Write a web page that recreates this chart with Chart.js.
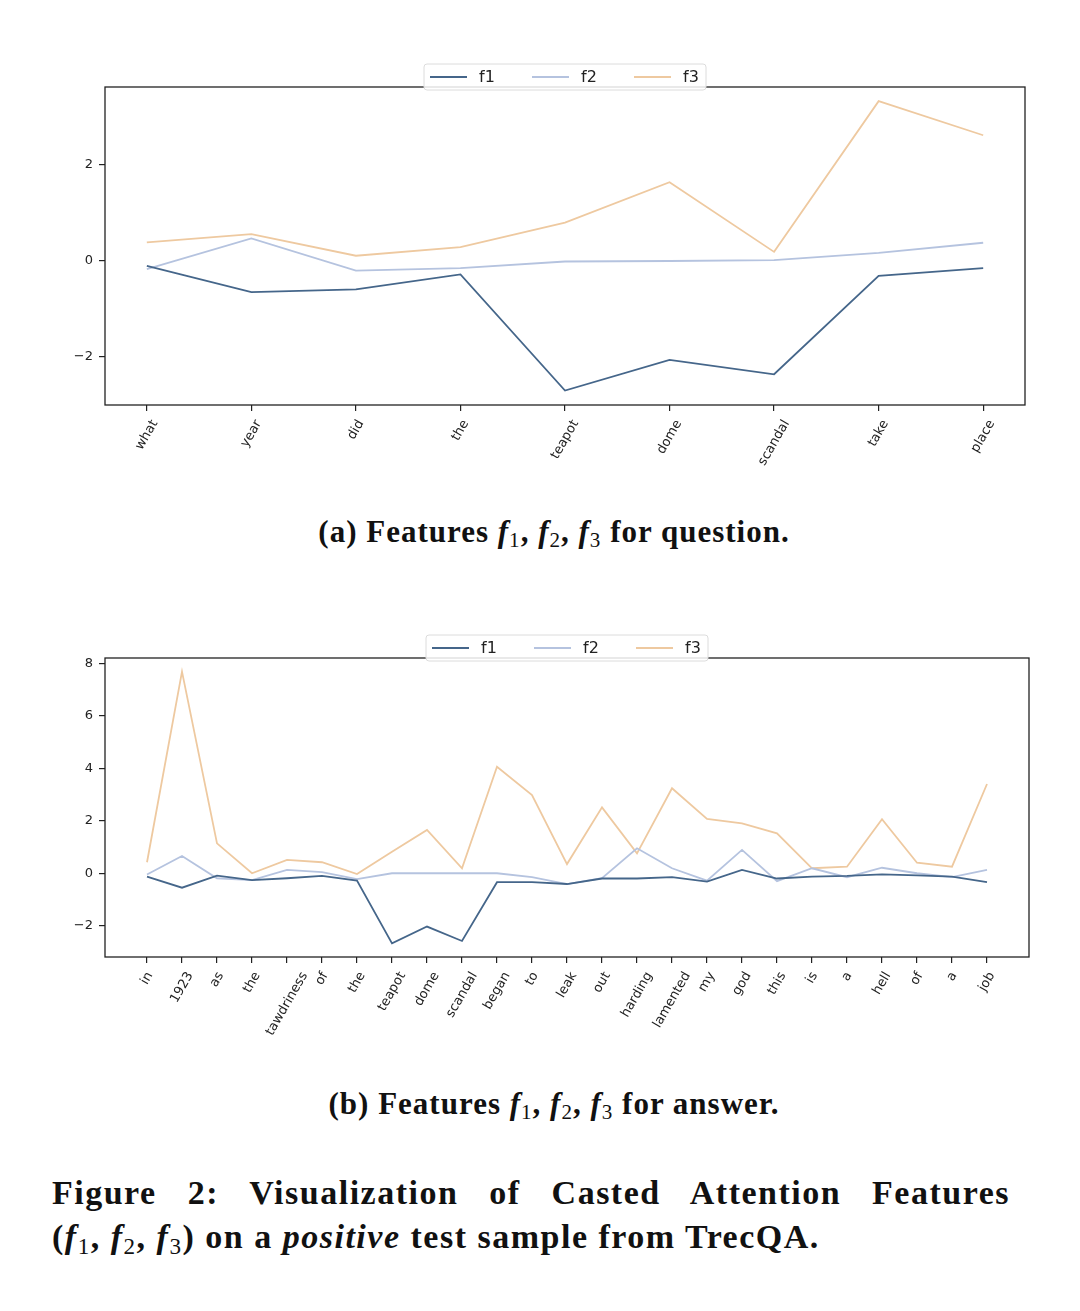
<!DOCTYPE html>
<html><head><meta charset="utf-8">
<script src="https://cdn.jsdelivr.net/npm/chart.js@4.4.1/dist/chart.umd.min.js"></script>
<style>
html,body{margin:0;padding:0;background:#fff;}
body{width:1080px;height:1311px;position:relative;overflow:hidden;font-family:"Liberation Serif",serif;color:#111;}
canvas{position:absolute;left:0;}
#c1{top:0;}
#c2{top:560px;}
.cap{position:absolute;left:0;width:1108px;text-align:center;font-weight:bold;font-size:31px;letter-spacing:1px;line-height:36px;white-space:nowrap;}
.cap sub,.fig sub{font-size:0.68em;font-weight:normal;vertical-align:-0.25em;line-height:0;}
.fig{position:absolute;left:52px;width:958px;font-weight:bold;font-size:34px;letter-spacing:1.5px;line-height:44px;}
.l1{text-align:justify;text-align-last:justify;white-space:nowrap;}
</style>
</head><body>
<canvas id="c1" width="1080" height="500"></canvas>
<canvas id="c2" width="1080" height="500"></canvas>
<div class="cap" style="top:514px">(a) Features <i>f</i><sub>1</sub>, <i>f</i><sub>2</sub>, <i>f</i><sub>3</sub> for question.</div>
<div class="cap" style="top:1086px">(b) Features <i>f</i><sub>1</sub>, <i>f</i><sub>2</sub>, <i>f</i><sub>3</sub> for answer.</div>
<div class="fig" style="top:1171px">
<div class="l1">Figure 2: Visualization of Casted Attention Features</div>
<div>(<i>f</i><sub>1</sub>, <i>f</i><sub>2</sub>, <i>f</i><sub>3</sub>) on a <i>positive</i> test sample from TrecQA.</div>
</div>
<script>
// ---- Data: question (a) ----
const qLabels = ['what','year','did','the','teapot','dome','scandal','take','place'];
const qF1 = [-0.10,-0.65,-0.59,-0.28,-2.70,-2.06,-2.36,-0.31,-0.15];
const qF2 = [-0.17,0.47,-0.20,-0.15,-0.01,0.00,0.02,0.17,0.38];
const qF3 = [0.39,0.56,0.11,0.29,0.80,1.64,0.19,3.33,2.62];
const qYTicks = [-2,0,2];

// ---- Data: answer (b) ----
const aLabels = ['in','1923','as','the','tawdriness','of','the','teapot','dome','scandal','began','to','leak','out','harding','lamented','my','god','this','is','a','hell','of','a','job'];
const aF1 = [-0.13,-0.55,-0.09,-0.26,-0.19,-0.10,-0.28,-2.67,-2.03,-2.58,-0.34,-0.34,-0.41,-0.20,-0.20,-0.15,-0.32,0.13,-0.20,-0.13,-0.10,-0.04,-0.08,-0.13,-0.34];
const aF2 = [-0.05,0.66,-0.19,-0.26,0.13,0.04,-0.22,0.00,0.00,0.00,0.00,-0.15,-0.41,-0.19,0.95,0.19,-0.28,0.89,-0.30,0.19,-0.15,0.21,0.00,-0.15,0.13];
const aF3 = [0.42,7.68,1.14,0.00,0.51,0.42,-0.03,0.82,1.65,0.19,4.06,2.98,0.35,2.51,0.76,3.24,2.07,1.90,1.52,0.19,0.25,2.06,0.40,0.25,3.40];
const aYTicks = [-2,0,2,4,6,8];

const seriesNames = ['f1','f2','f3'];
const seriesColors = ['#45668a','#b5c3df','#eec9a0'];

function makeChart(id, labels, f1, f2, f3, yMin, yMax, yTicks, area) {
  const H = 500, W = 1080;
  const series = [f1, f2, f3];
  const n = labels.length;
  const marg = (n - 1) * 0.05;
  const frame = {
    id: 'frame',
    afterDatasetsDraw(chart) {
      const a = chart.chartArea, ctx = chart.ctx;
      ctx.save();
      ctx.strokeStyle = '#222'; ctx.lineWidth = 1.3;
      ctx.strokeRect(a.left, a.top, a.right - a.left, a.bottom - a.top);
      ctx.restore();
    }
  };
  const xlab = {
    id: 'xlab',
    afterDraw(chart) {
      const ctx = chart.ctx, xs = chart.scales.x, a = chart.chartArea;
      ctx.save();
      ctx.font = '13px "DejaVu Sans"';
      ctx.fillStyle = '#222';
      const th = 13, ang = 60 * Math.PI / 180, y0 = a.bottom + 13;
      labels.forEach((t, i) => {
        const L = ctx.measureText(t).width;
        const x = xs.getPixelForValue(i);
        const bh = L * Math.sin(ang) + th * Math.cos(ang);
        ctx.save();
        ctx.translate(x, y0 + bh / 2);
        ctx.rotate(-ang);
        ctx.textAlign = 'center'; ctx.textBaseline = 'middle';
        ctx.fillText(t, 0, 0);
        ctx.restore();
      });
      ctx.restore();
    }
  };
  const legend = {
    id: 'mlegend',
    afterDraw(chart) {
      const ctx = chart.ctx, a = chart.chartArea;
      const bw = 282, bh = 26;
      const cx = (a.left + a.right) / 2;
      const bx = cx - bw / 2, by = a.top - 23;
      ctx.save();
      ctx.fillStyle = 'rgba(255,255,255,0.85)';
      ctx.strokeStyle = '#dcdcdc'; ctx.lineWidth = 1;
      ctx.beginPath();
      if (ctx.roundRect) ctx.roundRect(bx, by, bw, bh, 3); else ctx.rect(bx, by, bw, bh);
      ctx.fill(); ctx.stroke();
      ctx.font = '16px "DejaVu Sans"';
      ctx.textBaseline = 'middle';
      ctx.fillStyle = '#222';
      seriesNames.forEach((s, k) => {
        const ox = bx + 6 + k * 102;
        ctx.strokeStyle = seriesColors[k]; ctx.lineWidth = 2;
        ctx.beginPath(); ctx.moveTo(ox, by + bh / 2); ctx.lineTo(ox + 37, by + bh / 2); ctx.stroke();
        ctx.fillText(s, ox + 49, by + bh / 2 + 1);
      });
      ctx.restore();
    }
  };
  return new Chart(document.getElementById(id), {
    type: 'line',
    data: {
      datasets: series.map((arr, k) => ({
        label: seriesNames[k],
        data: arr.map((v, i) => ({x: i, y: v})),
        borderColor: seriesColors[k],
        backgroundColor: seriesColors[k],
        borderWidth: 1.8,
        pointRadius: 0,
        tension: 0,
        fill: false
      }))
    },
    options: {
      responsive: false,
      animation: false,
      devicePixelRatio: 1,
      layout: {padding: {left: 0, right: W - area.right, top: area.top, bottom: 0}},
      plugins: {legend: {display: false}, tooltip: {enabled: false}},
      scales: {
        x: {
          type: 'linear', min: -marg, max: (n - 1) + marg,
          afterBuildTicks: s => { s.ticks = labels.map((l, i) => ({value: i})); },
          afterFit: s => { s.height = H - area.bottom; },
          ticks: {display: false},
          grid: {display: true, drawOnChartArea: false, drawTicks: true, tickLength: 6, color: '#222', lineWidth: 1.2},
          border: {display: false}
        },
        y: {
          type: 'linear', min: yMin, max: yMax,
          afterBuildTicks: s => { s.ticks = yTicks.map(v => ({value: v})); },
          afterFit: s => { s.width = area.left; },
          ticks: {
            font: {family: '"DejaVu Sans"', size: 13}, color: '#222', padding: 6,
            callback: v => v < 0 ? '\u2212' + Math.abs(v) : String(v)
          },
          grid: {display: true, drawOnChartArea: false, drawTicks: true, tickLength: 6, color: '#222', lineWidth: 1.2},
          border: {display: false}
        }
      }
    },
    plugins: [frame, xlab, legend]
  });
}

makeChart('c1', qLabels, qF1, qF2, qF3, -3.0, 3.625, qYTicks, {left: 105, right: 1025, top: 87, bottom: 405});
makeChart('c2', aLabels, aF1, aF2, aF3, -3.19, 8.2, aYTicks, {left: 105, right: 1029, top: 98, bottom: 397});
</script>
</body></html>
